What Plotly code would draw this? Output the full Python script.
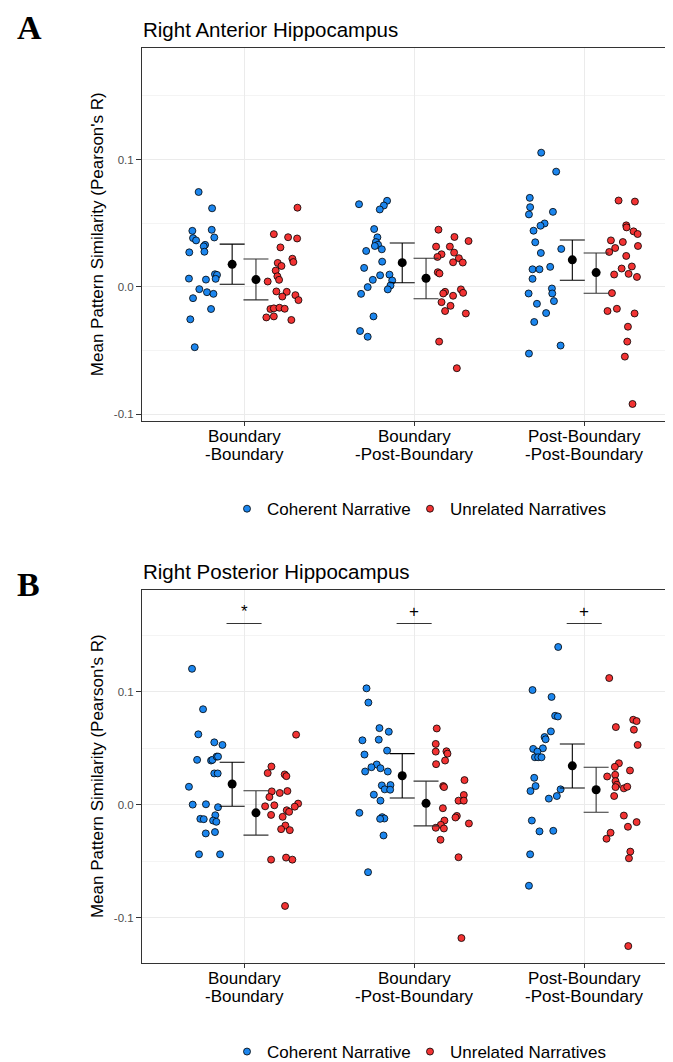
import plotly.graph_objects as go

# ---------------- data ----------------
categories = [1, 2, 3]
category_labels = ["Boundary<br>-Boundary", "Boundary<br>-Post-Boundary", "Post-Boundary<br>-Post-Boundary"]
y_tick_vals = [-0.1, 0.0, 0.1]
y_tick_text = ["-0.1", "0.0", "0.1"]
group_names = ["Coherent Narrative", "Unrelated Narratives"]

# Panel A - Right Anterior Hippocampus (per category: values and horizontal jitter)
ant_coh_y = [
    [0.0745, 0.0617, 0.044, 0.0448, 0.0383, 0.0365, 0.0388, 0.033, 0.0318, 0.0276, 0.0271, 0.0099, 0.0094, 0.0065,
     0.0057, 0.0063, -0.0018, -0.0042, -0.0055, -0.0089, -0.0174, -0.0255, -0.0474],
    [0.0649, 0.0676, 0.0639, 0.0608, 0.0454, 0.0389, 0.0352, 0.0331, 0.0321, 0.0295, 0.0282, 0.0198, 0.0149, 0.0091,
     0.0096, 0.005, 0.0055, 0.0011, -0.0002, -0.002, -0.0055, -0.0232, -0.0347, -0.0392],
    [0.1054, 0.0905, 0.0699, 0.0626, 0.0569, 0.0589, 0.0498, 0.048, 0.0441, 0.035, 0.0298, 0.0266, 0.0138, 0.0138,
     0.0157, 0.0063, -0.0013, -0.0052, -0.0052, -0.0112, -0.0133, -0.0206, -0.0276, -0.0461, -0.0524],
]
ant_coh_jit = [
    [-0.267, -0.188, -0.304, -0.19, -0.3, -0.282, -0.175, -0.229, -0.237, -0.233, -0.322, -0.171, -0.159, -0.324,
     -0.224, -0.167, -0.263, -0.218, -0.18, -0.3, -0.194, -0.316, -0.29],
    [-0.324, -0.159, -0.178, -0.202, -0.235, -0.216, -0.225, -0.212, -0.231, -0.19, -0.282, -0.188, -0.294, -0.2,
     -0.145, -0.129, -0.243, -0.139, -0.273, -0.155, -0.312, -0.239, -0.318, -0.273],
    [-0.253, -0.165, -0.32, -0.318, -0.325, -0.184, -0.233, -0.257, -0.298, -0.288, -0.135, -0.255, -0.304, -0.263,
     -0.2, -0.304, -0.19, -0.188, -0.327, -0.178, -0.278, -0.224, -0.294, -0.139, -0.325],
]
ant_unr_y = [
    [0.0622, 0.0414, 0.039, 0.038, 0.031, 0.0221, 0.0195, 0.0188, 0.0164, 0.0128, 0.0083, 0.0055, 0.0042, -0.0036,
     -0.0039, -0.0076, -0.0065, -0.0104, -0.0174, -0.0169, -0.0164, -0.0172, -0.024, -0.0232, -0.026],
    [0.0449, 0.0392, 0.036, 0.0316, 0.0316, 0.0256, 0.0235, 0.0269, 0.0225, 0.0193, 0.0191, 0.0115, 0.0105, -0.0039,
     -0.0052, -0.002, -0.0047, -0.007, -0.012, -0.0149, -0.019, -0.0209, -0.043, -0.0639],
    [0.0678, 0.067, 0.0483, 0.0467, 0.0436, 0.0415, 0.0365, 0.0352, 0.0305, 0.0321, 0.0274, 0.0243, 0.0144, 0.016,
     0.0097, 0.0102, 0.0078, -0.0049, -0.019, -0.0172, -0.0209, -0.0313, -0.043, -0.0548, -0.092],
]
ant_unr_jit = [
    [0.314, 0.175, 0.259, 0.312, 0.214, 0.284, 0.29, 0.198, 0.22, 0.186, 0.196, 0.206, 0.139, 0.19, 0.251, 0.225,
     0.302, 0.32, 0.155, 0.175, 0.208, 0.239, 0.131, 0.175, 0.278],
    [0.143, 0.237, 0.32, 0.129, 0.21, 0.161, 0.137, 0.235, 0.263, 0.229, 0.286, 0.139, 0.149, 0.182, 0.171, 0.275,
     0.288, 0.229, 0.161, 0.214, 0.182, 0.304, 0.147, 0.251],
    [0.202, 0.298, 0.247, 0.249, 0.29, 0.314, 0.157, 0.227, 0.182, 0.316, 0.147, 0.247, 0.22, 0.28, 0.176, 0.261,
     0.31, 0.163, 0.137, 0.192, 0.296, 0.257, 0.253, 0.239, 0.284],
]
ant_coh_mean = [0.0177, 0.019, 0.0212]
ant_coh_hi = [0.0336, 0.0345, 0.0368]
ant_coh_lo = [0.0021, 0.0032, 0.0052]
ant_unr_mean = [0.0057, 0.0068, 0.0112]
ant_unr_hi = [0.0219, 0.0225, 0.0266]
ant_unr_lo = [-0.0102, -0.0094, -0.005]

# Panel B - Right Posterior Hippocampus
pos_coh_y = [
    [0.1202, 0.0844, 0.0622, 0.0551, 0.0528, 0.0396, 0.039, 0.0396, 0.0425, 0.0425, 0.0276, 0.0276, 0.0158, 0.0,
     0.0003, -0.0023, -0.0094, -0.0126, -0.0129, -0.0141, -0.0152, -0.0255, -0.0243, -0.044, -0.044],
    [0.1029, 0.0903, 0.0677, 0.0645, 0.0569, 0.0575, 0.0478, 0.0443, 0.0355, 0.0331, 0.0322, 0.0293, 0.0293, 0.017,
     0.0173, 0.0135, 0.0132, 0.0088, 0.0035, -0.0073, -0.0111, -0.0123, -0.0126, -0.0273, -0.0598],
    [0.1395, 0.1014, 0.0953, 0.0786, 0.078, 0.0648, 0.0598, 0.0578, 0.0493, 0.0498, 0.0469, 0.0419, 0.0419, 0.0419,
     0.0237, 0.0164, 0.012, 0.0135, 0.0076, 0.0053, -0.0141, -0.0237, -0.0232, -0.044, -0.0718],
]
pos_coh_jit = [
    [-0.306, -0.241, -0.269, -0.175, -0.127, -0.276, -0.194, -0.186, -0.161, -0.153, -0.175, -0.155, -0.324, -0.302,
     -0.224, -0.153, -0.169, -0.257, -0.237, -0.182, -0.163, -0.225, -0.171, -0.265, -0.141],
    [-0.28, -0.269, -0.204, -0.149, -0.304, -0.208, -0.159, -0.292, -0.22, -0.251, -0.198, -0.288, -0.155, -0.19,
     -0.139, -0.173, -0.141, -0.237, -0.198, -0.322, -0.188, -0.175, -0.2, -0.18, -0.271],
    [-0.153, -0.304, -0.192, -0.171, -0.155, -0.196, -0.233, -0.227, -0.3, -0.243, -0.275, -0.29, -0.271, -0.251,
     -0.294, -0.286, -0.316, -0.139, -0.161, -0.208, -0.308, -0.263, -0.182, -0.318, -0.325],
]
pos_unr_y = [
    [0.0619, 0.0337, 0.0279, 0.0267, 0.0252, 0.0117, 0.0103, 0.012, 0.0067, -0.0015, -0.0006, 0.0009, -0.0018,
     -0.005, -0.0064, -0.0091, -0.0108, -0.0185, -0.0217, -0.0226, -0.0487, -0.0469, -0.0487, -0.0897],
    [0.0674, 0.0537, 0.0469, 0.0472, 0.0451, 0.039, 0.0358, 0.0217, 0.0164, 0.0155, 0.0085, 0.0035, 0.0035, -0.0032,
     -0.01, -0.0114, -0.0141, -0.0167, -0.0179, -0.0205, -0.0211, -0.0311, -0.0466, -0.1181],
    [0.112, 0.0751, 0.0739, 0.0686, 0.0663, 0.0528, 0.0366, 0.0334, 0.0302, 0.0249, 0.0264, 0.0208, 0.0176, 0.0155,
     0.0144, 0.0158, 0.0076, -0.0097, -0.0155, -0.0196, -0.0249, -0.0302, -0.0416, -0.0475, -0.1252],
]
pos_unr_jit = [
    [0.306, 0.161, 0.139, 0.239, 0.249, 0.163, 0.21, 0.255, 0.149, 0.124, 0.178, 0.318, 0.298, 0.251, 0.265, 0.159,
     0.227, 0.243, 0.218, 0.269, 0.159, 0.247, 0.284, 0.241],
    [0.133, 0.127, 0.127, 0.19, 0.196, 0.182, 0.129, 0.296, 0.171, 0.176, 0.292, 0.261, 0.292, 0.169, 0.251, 0.243,
     0.178, 0.322, 0.157, 0.127, 0.175, 0.155, 0.261, 0.278],
    [0.147, 0.288, 0.308, 0.186, 0.292, 0.314, 0.204, 0.18, 0.269, 0.135, 0.182, 0.184, 0.192, 0.184, 0.233, 0.253,
     0.176, 0.233, 0.308, 0.257, 0.155, 0.131, 0.271, 0.263, 0.259],
]
pos_coh_mean = [0.0182, 0.0255, 0.0343]
pos_coh_hi = [0.0375, 0.0451, 0.0536]
pos_coh_lo = [-0.0015, 0.0059, 0.0147]
pos_unr_mean = [-0.0073, 0.0011, 0.0132]
pos_unr_hi = [0.0123, 0.0208, 0.0331]
pos_unr_lo = [-0.027, -0.0188, -0.0067]

sig_labels = ["*", "+", "+"]
sig_bar_y = 0.1603

# ---------------- style ----------------
BLUE = "#1C86EE"
RED = "#F23333"
FONT = "Liberation Sans, Arial, sans-serif"
DODGE = 0.07
W, H = 673, 1062
ML = 134
PW = W - ML

fig = go.Figure()


def add_panel(xa, ya, legend_id, coh_y, coh_jit, unr_y, unr_jit,
              coh_m, coh_hi, coh_lo, unr_m, unr_hi, unr_lo):
    for name, color, ys, jits, lw in [(group_names[0], BLUE, coh_y, coh_jit, 138),
                                      (group_names[1], RED, unr_y, unr_jit, 160)]:
        xs, yv = [], []
        for c, yl, jl in zip(categories, ys, jits):
            xs += [c + j for j in jl]
            yv += yl
        fig.add_trace(go.Scatter(
            x=xs, y=yv, mode="markers", name=name, legend=legend_id, legendwidth=lw,
            marker=dict(size=7, color=color, line=dict(color="black", width=0.8)),
            xaxis=xa, yaxis=ya, showlegend=True))
    for sign, m, hi, lo, ecol in [(-1, coh_m, coh_hi, coh_lo, "black"),
                                  (1, unr_m, unr_hi, unr_lo, "#333333")]:
        fig.add_trace(go.Scatter(
            x=[c + sign * DODGE for c in categories], y=m, mode="markers",
            marker=dict(size=9, color="black"),
            error_y=dict(type="data", symmetric=False,
                         array=[h - v for h, v in zip(hi, m)],
                         arrayminus=[v - l for l, v in zip(lo, m)],
                         color=ecol, thickness=1.1, width=12.5),
            xaxis=xa, yaxis=ya, showlegend=False, legend=legend_id))


add_panel("x", "y", "legend", ant_coh_y, ant_coh_jit, ant_unr_y, ant_unr_jit,
          ant_coh_mean, ant_coh_hi, ant_coh_lo, ant_unr_mean, ant_unr_hi, ant_unr_lo)
add_panel("x2", "y2", "legend2", pos_coh_y, pos_coh_jit, pos_unr_y, pos_unr_jit,
          pos_coh_mean, pos_coh_hi, pos_coh_lo, pos_unr_mean, pos_unr_hi, pos_unr_lo)

# significance bars in panel B
for c, lab in zip(categories, sig_labels):
    fig.add_shape(type="line", xref="x2", yref="y2", x0=c - 0.103, x1=c + 0.103,
                  y0=sig_bar_y, y1=sig_bar_y, line=dict(color="#333333", width=1.1))
    fig.add_annotation(x=c, y=sig_bar_y, xref="x2", yref="y2", text=lab, showarrow=False,
                       yanchor="bottom", yshift=0, font=dict(family=FONT, size=17, color="black"))

# two-line category labels under each panel (tight ggplot-like line spacing)
for xa, line_px in [("x", (431, 449)), ("x2", (976, 994))]:
    for c, lab in zip(categories, category_labels):
        for part, py in zip(lab.split("<br>"), line_px):
            fig.add_annotation(x=c, y=1 - py / H, xref=xa, yref="paper", text=part, showarrow=False,
                               xanchor="center", yanchor="middle",
                               font=dict(family=FONT, size=17, color="black"))


def xax(anchor):
    return dict(range=[0.4, 3.569], tickmode="array", tickvals=categories, showticklabels=False,
                showgrid=True, gridcolor="#EBEBEB", gridwidth=1.1, zeroline=False,
                showline=True, linecolor="#333333", linewidth=1.1, mirror=True,
                ticks="outside", ticklen=4, tickcolor="#333333",
                domain=[0, 1], anchor=anchor)


def yax(rng, dom, anchor):
    return dict(range=rng, domain=dom, anchor=anchor, tickmode="array", tickvals=y_tick_vals,
                ticktext=y_tick_text, showgrid=True, gridcolor="#EBEBEB", gridwidth=1.1, zeroline=False,
                minor=dict(tickmode="array", tickvals=[-0.15, -0.05, 0.05, 0.15], showgrid=True,
                           gridcolor="#F4F4F4", gridwidth=0.6, ticks=""),
                showline=True, linecolor="#333333", linewidth=1.1, mirror=False,
                ticks="outside", ticklen=5, tickcolor="#333333",
                tickfont=dict(family=FONT, size=11.5, color="#4D4D4D"),
                title=dict(text="Mean Pattern Similarity (Pearson's R)",
                           font=dict(family=FONT, size=17, color="black"), standoff=5))


LEG_X = (219 - ML) / PW
fig.update_layout(
    width=W, height=H, margin=dict(l=ML, r=0, t=0, b=0),
    paper_bgcolor="white", plot_bgcolor="white",
    xaxis=xax("y"), yaxis=yax([-0.1051, 0.1878], [1 - 415 / H, 1 - 40 / H], "x"),
    xaxis2=xax("y2"), yaxis2=yax([-0.1398, 0.1902], [1 - 960 / H, 1 - 585 / H], "x2"),
    legend=dict(orientation="h", x=LEG_X, xanchor="left", y=1 - 504 / H, yanchor="middle",
                font=dict(family=FONT, size=17, color="black"), bgcolor="rgba(0,0,0,0)"),
    legend2=dict(orientation="h", x=LEG_X, xanchor="left", y=1 - 1050 / H, yanchor="middle",
                 font=dict(family=FONT, size=17, color="black"), bgcolor="rgba(0,0,0,0)"),
    showlegend=True,
)

# panel titles and letters
for title, ty, letter, ly in [("Right Anterior Hippocampus", 1 - 22 / H, "A", 1 - 20 / H),
                              ("Right Posterior Hippocampus", 1 - 567 / H, "B", 1 - 580 / H)]:
    fig.add_annotation(x=0, y=ty, xref="paper", yref="paper", text=title, showarrow=False,
                       xanchor="left", yanchor="middle", xshift=-1,
                       font=dict(family=FONT, size=20.5, color="black"))
    fig.add_annotation(x=(7 - ML) / PW, y=ly, xref="paper", yref="paper", text="<b>" + letter + "</b>",
                       showarrow=False, xanchor="left", yanchor="middle",
                       font=dict(family="Liberation Serif, Times New Roman, serif", size=34, color="black"))

fig.write_html("out.html")
